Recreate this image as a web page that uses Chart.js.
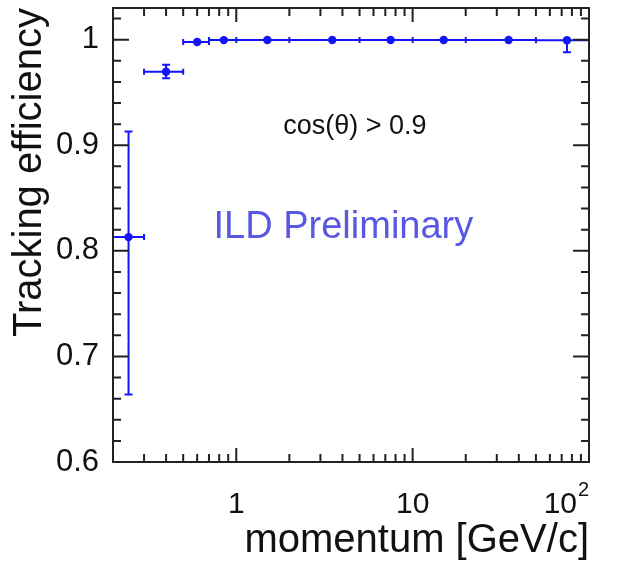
<!DOCTYPE html>
<html>
<head>
<meta charset="utf-8">
<script src="https://cdn.jsdelivr.net/npm/chart.js@4"></script>
<style>
  body { margin: 0; background: #fff; }
  canvas { display: block; }
</style>
</head>
<body>
<canvas id="effChart" width="619" height="565"></canvas>
<script>
// momentum bins [GeV/c] and tracking efficiency, cos(theta) > 0.9
const momentum   = [0.245, 0.4, 0.6, 0.85, 1.5, 3.5, 7.5, 15, 35, 75];
const binLow     = [0.2, 0.3, 0.5, 0.7, 1, 2, 5, 10, 20, 50];
const binHigh    = [0.3, 0.5, 0.7, 1, 2, 5, 10, 20, 50, 100];
const efficiency = [0.813, 0.9697, 0.9978, 0.9996, 0.9997, 0.9997, 0.9997, 0.9997, 0.9997, 0.9995];
const errLow     = [0.149, 0.0063, 0.0015, 0.0005, 0.0003, 0.0003, 0.0003, 0.0003, 0.0003, 0.0115];
const errHigh    = [0.100, 0.0066, 0.0015, 0.0004, 0.0003, 0.0003, 0.0003, 0.0003, 0.0003, 0.0005];

const xTickVals   = [1, 10, 100];
const xTickLabels = ['1', '10', '10'];   // last one gets a superscript 2
const yTickVals   = [0.6, 0.7, 0.8, 0.9, 1.0];
const yTickLabels = ['0.6', '0.7', '0.8', '0.9', '1'];

const FONT = '"Liberation Sans", Arial, Helvetica, sans-serif';
const BLUE = 'rgb(20, 20, 250)';

// minor tick values
const xMinor = [];
[0.1, 1, 10].forEach(d => { for (let k = 2; k <= 9; k++) { const v = k * d; if (v >= 0.2 && v <= 100) xMinor.push(v); } });
const yMinor = [];
for (let k = 30; k <= 51; k++) yMinor.push(k / 50);

// ROOT-like frame with inward ticks on all four sides
const framePlugin = {
    id: 'frame',
    afterDraw(chart) {
        const {ctx, chartArea: a, scales: {x, y}} = chart;
        ctx.save();
        ctx.strokeStyle = '#222';
        ctx.lineWidth = 2;
        ctx.strokeRect(a.left, a.top, a.right - a.left, a.bottom - a.top);
        ctx.beginPath();
        const xt = (v, len) => {
            const px = x.getPixelForValue(v);
            ctx.moveTo(px, a.bottom); ctx.lineTo(px, a.bottom - len);
            ctx.moveTo(px, a.top); ctx.lineTo(px, a.top + len);
        };
        const yt = (v, len) => {
            const py = y.getPixelForValue(v);
            ctx.moveTo(a.left, py); ctx.lineTo(a.left + len, py);
            ctx.moveTo(a.right, py); ctx.lineTo(a.right - len, py);
        };
        xMinor.forEach(v => xt(v, 8));
        xTickVals.forEach(v => xt(v, 14));
        yMinor.forEach(v => yt(v, 8));
        yTickVals.forEach(v => yt(v, 16));
        ctx.stroke();

        // x tick labels (drawn here to get the 10^2 exponent)
        ctx.fillStyle = '#111';
        ctx.textBaseline = 'alphabetic';
        ctx.font = '30px ' + FONT;
        xTickVals.forEach((v, i) => {
            const px = x.getPixelForValue(v);
            if (i === xTickVals.length - 1) {
                ctx.textAlign = 'right';
                ctx.fillText(xTickLabels[i], px - 12, 513);
                ctx.font = '20px ' + FONT;
                ctx.textAlign = 'left';
                ctx.fillText('2', px - 11, 496);
                ctx.font = '30px ' + FONT;
            } else {
                ctx.textAlign = 'center';
                ctx.fillText(xTickLabels[i], px, 513);
            }
        });

        // annotations
        ctx.textAlign = 'center';
        ctx.font = '27px ' + FONT;
        ctx.fillStyle = '#111';
        ctx.fillText('cos(θ) > 0.9', x.getPixelForValue(4.7), y.getPixelForValue(0.911));
        ctx.font = '38px ' + FONT;
        ctx.fillStyle = 'rgb(88, 88, 226)';
        ctx.fillText('ILD Preliminary', x.getPixelForValue(4.05), y.getPixelForValue(0.812));
        ctx.restore();
    }
};

// asymmetric error bars with caps
const errorBarPlugin = {
    id: 'errorBars',
    beforeDatasetsDraw(chart) {
        const {ctx, scales: {x, y}} = chart;
        ctx.save();
        ctx.strokeStyle = BLUE;
        ctx.lineWidth = 2;
        ctx.beginPath();
        momentum.forEach((m, i) => {
            const px = x.getPixelForValue(m);
            const py = y.getPixelForValue(efficiency[i]);
            const xl = x.getPixelForValue(binLow[i]);
            const xh = x.getPixelForValue(binHigh[i]);
            ctx.moveTo(xl, py); ctx.lineTo(xh, py);
            ctx.moveTo(xl, py - 3); ctx.lineTo(xl, py + 3);
            ctx.moveTo(xh, py - 3); ctx.lineTo(xh, py + 3);
            const yl = y.getPixelForValue(efficiency[i] - errLow[i]);
            const yh = y.getPixelForValue(efficiency[i] + errHigh[i]);
            ctx.moveTo(px, yl); ctx.lineTo(px, yh);
            if (yl - py > 4) { ctx.moveTo(px - 4, yl); ctx.lineTo(px + 4, yl); }
            if (py - yh > 4) { ctx.moveTo(px - 4, yh); ctx.lineTo(px + 4, yh); }
        });
        ctx.stroke();
        ctx.restore();
    }
};

const ctx = document.getElementById('effChart').getContext('2d');
const effChart = new Chart(ctx, {
    type: 'scatter',
    data: {
        datasets: [{
            label: 'efficiency',
            data: momentum.map((m, i) => ({x: m, y: efficiency[i]})),
            backgroundColor: BLUE,
            borderColor: BLUE,
            pointRadius: 4.2,
            borderWidth: 0
        }]
    },
    options: {
        responsive: false,
        animation: false,
        layout: { padding: { top: 8, right: 30, left: 0, bottom: 0 } },
        plugins: { legend: { display: false }, tooltip: { enabled: false } },
        scales: {
            x: {
                type: 'logarithmic',
                min: 0.2,
                max: 100,
                border: { display: false },
                grid: { display: false, drawTicks: false },
                ticks: { display: false },
                afterBuildTicks: scale => { scale.ticks = xTickVals.map(v => ({value: v})); },
                afterFit: scale => {
                    scale.height = 103;
                    scale.paddingLeft = 0; scale.paddingRight = 0;
                },
                title: {
                    display: true,
                    text: 'momentum [GeV/c]',
                    align: 'end',
                    color: '#111',
                    font: { family: FONT, size: 40, lineHeight: 1.2 },
                    padding: 0
                }
            },
            y: {
                min: 0.6,
                max: 1.03,
                border: { display: false },
                grid: { display: false, drawTicks: false },
                afterBuildTicks: scale => { scale.ticks = yTickVals.map(v => ({value: v})); },
                afterFit: scale => {
                    scale.width = 113;
                    scale.paddingTop = 0; scale.paddingBottom = 0;
                },
                ticks: {
                    color: '#111',
                    padding: 14,
                    font: { family: FONT, size: 31 },
                    callback: (val, idx) => yTickLabels[idx]
                },
                title: {
                    display: true,
                    text: 'Tracking efficiency',
                    align: 'end',
                    color: '#111',
                    font: { family: FONT, size: 40, lineHeight: 1.2 },
                    padding: { top: 6 }
                }
            }
        }
    },
    plugins: [errorBarPlugin, framePlugin]
});
</script>
</body>
</html>
